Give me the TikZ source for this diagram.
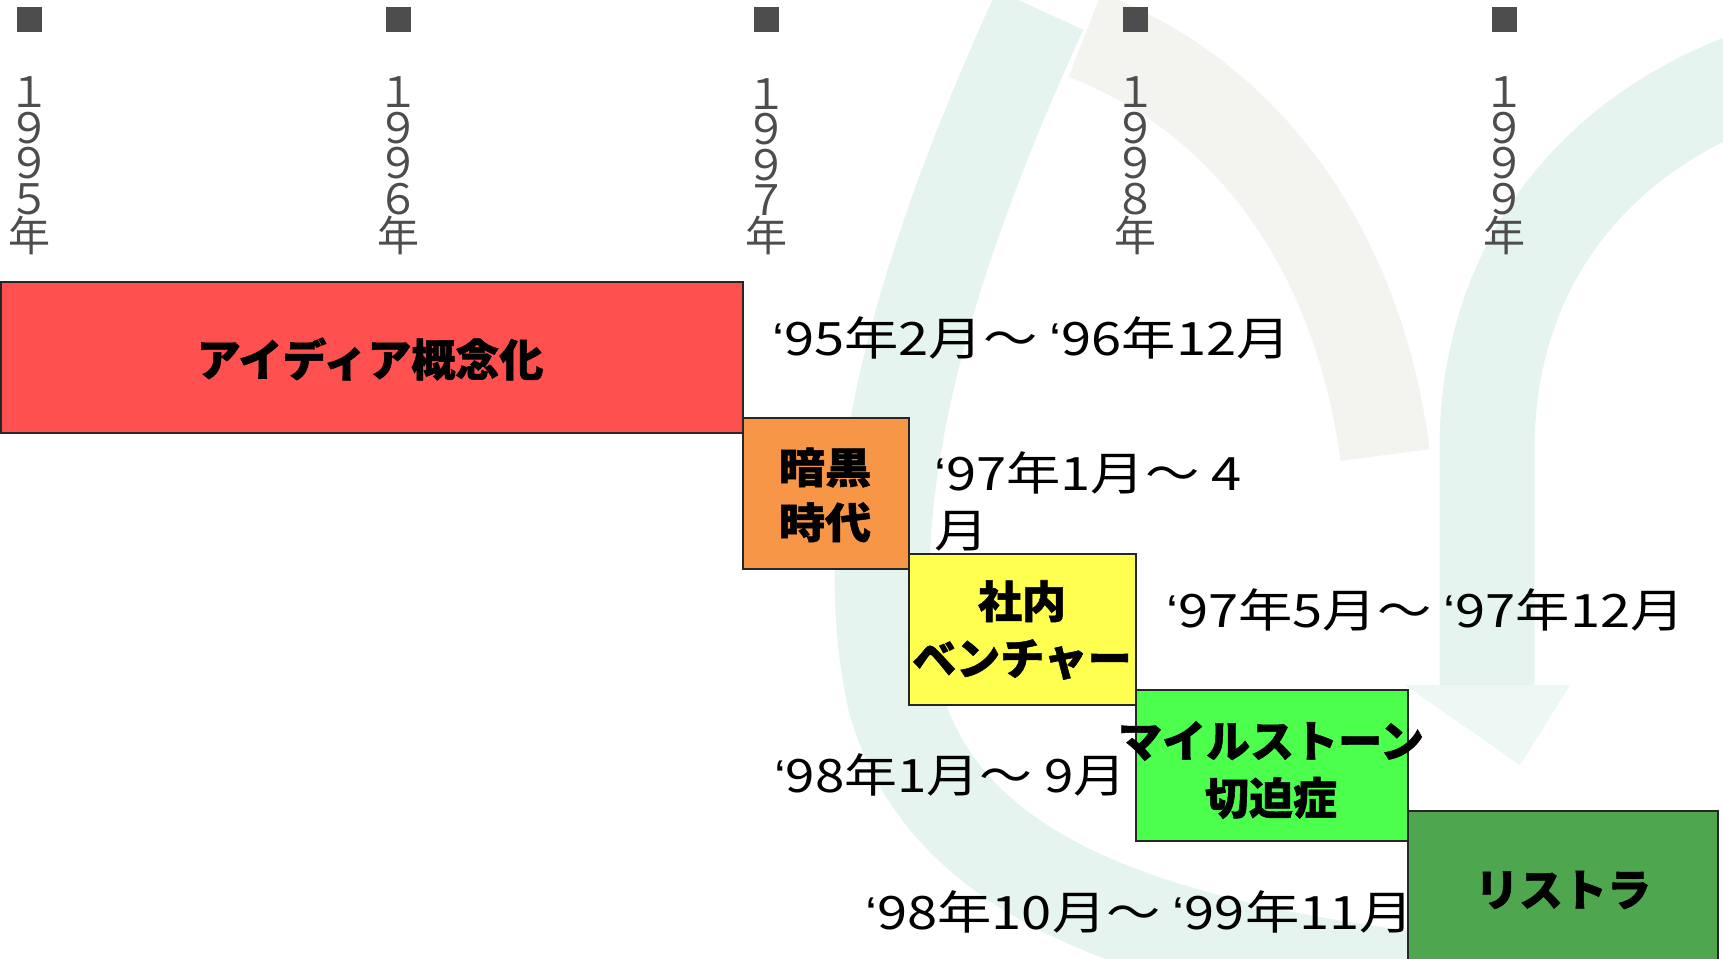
\documentclass[tikz,border=0pt]{standalone}
\usepackage{fontspec}
\usepackage{graphicx}
\setmainfont{Noto Sans CJK JP}[BoldFeatures={FakeBold=1.2}]
\newfontfamily\latinfont{Liberation Sans}
\definecolor{ink}{HTML}{4D4D4D}
\definecolor{phRed}{HTML}{FF5050}
\definecolor{phOrange}{HTML}{F79646}
\definecolor{phYellow}{HTML}{FFFF4F}
\definecolor{phLime}{HTML}{4DFF4D}
\definecolor{phGreen}{HTML}{4EA64E}
\definecolor{mint}{RGB}{229,244,239}
\definecolor{haze}{RGB}{243,244,240}
\newcommand\tk{{\latinfont ‘}}
\newcommand\wide[2]{\scalebox{#1}[1]{#2}}
\begin{document}
\begin{tikzpicture}[x=1pt,y=-1pt,
  yearmark/.style={fill=ink, minimum size=25pt, inner sep=0pt, draw=none},
  yearlabel/.style={text=ink, font=\fontsize{42}{35.5}\selectfont, align=center, inner sep=0pt, anchor=base},
  phase/.style={draw=black!85, line width=1.5pt, inner sep=0pt, anchor=north west},
  phaselabel/.style={font=\fontsize{44}{57}\selectfont\bfseries, align=center, inner sep=0pt},
  datelabel/.style={font=\fontsize{46}{57}\selectfont, anchor=base west, inner sep=0pt, align=left},
  band/.style={line width=95pt, line cap=butt}
]
\useasboundingbox (0,0) rectangle (1723,958);
\fill[white] (0,0) rectangle (1723,958);

% faint cycle-arrow watermark behind the chart
\draw[band, mint] (1040,10) .. controls (930,250) and (850,500) .. (895,700)
  .. controls (945,880) and (1150,950) .. (1460,985);
\draw[band, haze, line width=90pt] (1085,35) .. controls (1255,100) and (1360,260) .. (1385,455);
\draw[band, mint] (1760,75) .. controls (1600,130) and (1487,260) .. (1487,450) -- (1487,690);
\fill[mint!70!white] (1405,685) -- (1570,685) -- (1520,765) -- cycle;

% year markers
\node[yearmark] (m95) at (29.5,19.5) {};
\node[yearmark] (m96) at (398,19.5) {};
\node[yearmark] (m97) at (766.5,19.5) {};
\node[yearmark] (m98) at (1135.5,19.5) {};
\node[yearmark] (m99) at (1504,19.5) {};
\node[yearlabel] (y95) at (29.5,251) {１\\９\\９\\５\\年};
\node[yearlabel] (y96) at (398,251) {１\\９\\９\\６\\年};
\node[yearlabel] (y97) at (766.5,251) {１\\９\\９\\７\\年};
\node[yearlabel] (y98) at (1135.5,251) {１\\９\\９\\８\\年};
\node[yearlabel] (y99) at (1504,251) {１\\９\\９\\９\\年};

% phase bars
\node[phase, fill=phRed, minimum width=742, minimum height=151] (idea) at (0,281) {};
\node[phase, fill=phOrange, minimum width=166, minimum height=151] (dark) at (742,417) {};
\node[phase, fill=phYellow, minimum width=227, minimum height=151] (venture) at (908,553) {};
\node[phase, fill=phLime, minimum width=272, minimum height=151] (mile) at (1135,689) {};
\node[phase, fill=phGreen, minimum width=310, minimum height=175] (restr) at (1407,810) {};

% phase names
\node[phaselabel] (ideaT) at (370,359) {アイディア概念化};
\node[phaselabel, font=\fontsize{42}{55}\selectfont\bfseries] (darkT) at (825,495) {\wide{1.1}{暗黒}\\\wide{1.1}{時代}};
\node[phaselabel] (ventT) at (1022,630) {社内\\ベンチャー};
\node[phaselabel] (mileT) at (1271,770) {マイルストーン\\切迫症};
\node[phaselabel] (restrT) at (1563,890) {リストラ};

% periods
\node[datelabel] (d1) at (772,355) {\wide{1.18}{\tk95年2月～ \tk96年12月}};
\node[datelabel] (d2) at (934,547) {\wide{1.18}{\tk97年1月～ 4}\\\wide{1.18}{月}};
\node[datelabel] (d3) at (1166,627) {\wide{1.18}{\tk97年5月～ \tk97年12月}};
\node[datelabel] (d4) at (774,792) {\wide{1.15}{\tk98年1月～ 9月}};
\node[datelabel] (d5) at (865,929) {\wide{1.18}{\tk98年10月～ \tk99年11月}};
\end{tikzpicture}
\end{document}
